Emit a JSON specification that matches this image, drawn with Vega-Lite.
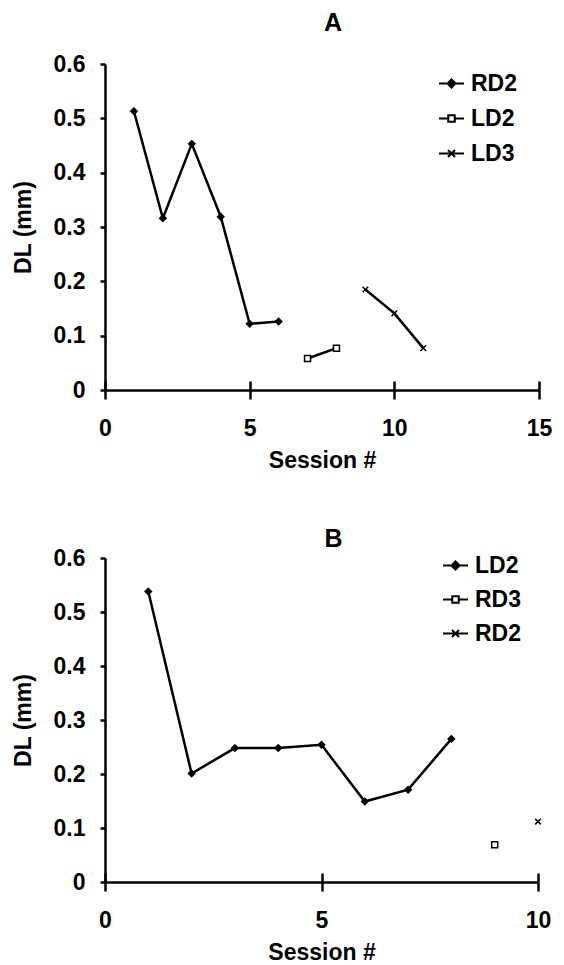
{
  "$schema": "https://vega.github.io/schema/vega-lite/v6.json",
  "background": "white",
  "padding": {"left": 12, "top": 11, "right": 5, "bottom": 5},
  "bounds": "flush",
  "spacing": 168,
  "resolve": {
    "scale": {"shape": "independent", "fill": "independent", "size": "independent", "x": "independent", "y": "independent"},
    "legend": {"shape": "independent", "fill": "independent", "size": "independent"}
  },
  "config": {
    "view": {"stroke": null},
    "font": "Liberation Sans",
    "axis": {
      "grid": false,
      "domainColor": "black",
      "domainWidth": 2.5,
      "tickColor": "black",
      "tickWidth": 2.5,
      "labelFont": "Liberation Sans",
      "labelFontWeight": "bold",
      "labelFontSize": 23,
      "labelColor": "black",
      "labelFlush": false,
      "titleFont": "Liberation Sans",
      "titleFontWeight": "bold",
      "titleFontSize": 23,
      "titleColor": "black"
    },
    "legend": {
      "labelFont": "Liberation Sans",
      "labelFontSize": 23,
      "labelFontWeight": "bold",
      "labelColor": "black",
      "labelOffset": 6,
      "padding": 0,
      "symbolSize": 625,
      "symbolStrokeWidth": 2
    },
    "title": {"font": "Liberation Sans", "fontSize": 25, "fontWeight": "bold", "color": "black"}
  },
  "datasets": {
    "a": [
      {"series": "RD2", "session": 1, "dl": 0.513},
      {"series": "RD2", "session": 2, "dl": 0.316},
      {"series": "RD2", "session": 3, "dl": 0.453},
      {"series": "RD2", "session": 4, "dl": 0.319},
      {"series": "RD2", "session": 5, "dl": 0.122},
      {"series": "RD2", "session": 6, "dl": 0.126},
      {"series": "LD2", "session": 7, "dl": 0.058},
      {"series": "LD2", "session": 8, "dl": 0.077},
      {"series": "LD3", "session": 9, "dl": 0.185},
      {"series": "LD3", "session": 10, "dl": 0.141},
      {"series": "LD3", "session": 11, "dl": 0.077}
    ],
    "b": [
      {"series": "LD2", "session": 1, "dl": 0.538},
      {"series": "LD2", "session": 2, "dl": 0.201},
      {"series": "LD2", "session": 3, "dl": 0.248},
      {"series": "LD2", "session": 4, "dl": 0.248},
      {"series": "LD2", "session": 5, "dl": 0.254},
      {"series": "LD2", "session": 6, "dl": 0.149},
      {"series": "LD2", "session": 7, "dl": 0.171},
      {"series": "LD2", "session": 8, "dl": 0.265},
      {"series": "RD3", "session": 9, "dl": 0.069},
      {"series": "RD2", "session": 10, "dl": 0.112}
    ]
  },
  "vconcat": [
    {
      "width": 434,
      "height": 326,
      "title": {"text": "A", "dx": 11, "offset": 17},
      "data": {"name": "a"},
      "layer": [
        {
          "mark": {"type": "line", "color": "black", "strokeWidth": 2.5},
          "encoding": {
            "x": {"field": "session", "type": "quantitative", "scale": {"domain": [0, 15], "nice": false},
                  "axis": {"values": [0, 5, 10, 15], "tickSize": 9, "labelPadding": 18, "titlePadding": 9, "title": "Session #"}},
            "y": {"field": "dl", "type": "quantitative", "scale": {"domain": [0, 0.6], "nice": false},
                  "axis": {"values": [0, 0.1, 0.2, 0.3, 0.4, 0.5, 0.6], "format": "~g", "tickSize": 5, "labelPadding": 15, "titlePadding": 18, "title": "DL (mm)"}},
            "detail": {"field": "series", "type": "nominal"}
          }
        },
        {
          "mark": {"type": "point", "filled": true, "opacity": 1, "stroke": "black", "strokeWidth": 1.5},
          "encoding": {
            "x": {"field": "session", "type": "quantitative",
                  "axis": {"orient": "bottom", "offset": -9, "values": [0, 5, 10, 15], "tickSize": 9, "labels": false, "domain": false, "title": null}},
            "y": {"field": "dl", "type": "quantitative"},
            "shape": {"field": "series", "type": "nominal",
                      "scale": {"domain": ["RD2", "LD2", "LD3"], "range": ["diamond", "square", "M-1,-1L1,1M-1,1L1,-1"]}, "legend": null},
            "fill": {"field": "series", "type": "nominal",
                     "scale": {"domain": ["RD2", "LD2", "LD3"], "range": ["black", "white", "white"]}, "legend": null},
            "size": {"field": "series", "type": "nominal",
                     "scale": {"domain": ["RD2", "LD2", "LD3"], "range": [40, 32, 60]}, "legend": null}
          }
        },
        {
          "transform": [{"filter": "datum.session > 100"}],
          "mark": {"type": "point", "filled": false, "opacity": 1, "color": "black", "strokeWidth": 2},
          "encoding": {
            "x": {"field": "session", "type": "quantitative", "axis": null},
            "y": {"field": "dl", "type": "quantitative"},
            "shape": {"field": "series", "type": "nominal",
                      "scale": {"domain": ["RD2", "LD2", "LD3"], "range": [
                        "M-1,0L1,0M0,-0.32L0.32,0L0,0.32L-0.32,0ZM0,-0.16L0.16,0L0,0.16L-0.16,0Z",
                        "M-1,0L-0.26,0M0.26,0L1,0M-0.26,-0.26L0.26,-0.26L0.26,0.26L-0.26,0.26Z",
                        "M-1,0L1,0M-0.28,-0.28L0.28,0.28M-0.28,0.28L0.28,-0.28"]},
                      "legend": {"orient": "none", "legendX": 333, "legendY": 6, "title": null, "rowPadding": 9}}
          }
        }
      ],
      "resolve": {"axis": {"x": "independent"}, "scale": {"shape": "independent"}, "legend": {"shape": "independent"}}
    },
    {
      "width": 433,
      "height": 324,
      "title": {"text": "B", "dx": 12, "offset": -5},
      "data": {"name": "b"},
      "layer": [
        {
          "mark": {"type": "line", "color": "black", "strokeWidth": 2.5},
          "encoding": {
            "x": {"field": "session", "type": "quantitative", "scale": {"domain": [0, 10], "nice": false},
                  "axis": {"values": [0, 5, 10], "tickSize": 9, "labelPadding": 18, "titlePadding": 9, "title": "Session #"}},
            "y": {"field": "dl", "type": "quantitative", "scale": {"domain": [0, 0.6], "nice": false},
                  "axis": {"values": [0, 0.1, 0.2, 0.3, 0.4, 0.5, 0.6], "format": "~g", "tickSize": 5, "labelPadding": 15, "titlePadding": 18, "title": "DL (mm)"}},
            "detail": {"field": "series", "type": "nominal"}
          }
        },
        {
          "mark": {"type": "point", "filled": true, "opacity": 1, "stroke": "black", "strokeWidth": 1.5},
          "encoding": {
            "x": {"field": "session", "type": "quantitative",
                  "axis": {"orient": "bottom", "offset": -9, "values": [0, 5, 10], "tickSize": 9, "labels": false, "domain": false, "title": null}},
            "y": {"field": "dl", "type": "quantitative"},
            "shape": {"field": "series", "type": "nominal",
                      "scale": {"domain": ["LD2", "RD3", "RD2"], "range": ["diamond", "square", "M-1,-1L1,1M-1,1L1,-1"]}, "legend": null},
            "fill": {"field": "series", "type": "nominal",
                     "scale": {"domain": ["LD2", "RD3", "RD2"], "range": ["black", "white", "white"]}, "legend": null},
            "size": {"field": "series", "type": "nominal",
                     "scale": {"domain": ["LD2", "RD3", "RD2"], "range": [40, 32, 60]}, "legend": null}
          }
        },
        {
          "transform": [{"filter": "datum.session > 100"}],
          "mark": {"type": "point", "filled": false, "opacity": 1, "color": "black", "strokeWidth": 2},
          "encoding": {
            "x": {"field": "session", "type": "quantitative", "axis": null},
            "y": {"field": "dl", "type": "quantitative"},
            "shape": {"field": "series", "type": "nominal",
                      "scale": {"domain": ["LD2", "RD3", "RD2"], "range": [
                        "M-1,0L1,0M0,-0.32L0.32,0L0,0.32L-0.32,0ZM0,-0.16L0.16,0L0,0.16L-0.16,0Z",
                        "M-1,0L-0.26,0M0.26,0L1,0M-0.26,-0.26L0.26,-0.26L0.26,0.26L-0.26,0.26Z",
                        "M-1,0L1,0M-0.28,-0.28L0.28,0.28M-0.28,0.28L0.28,-0.28"]},
                      "legend": {"orient": "none", "legendX": 337, "legendY": -6, "title": null, "rowPadding": 8}}
          }
        }
      ],
      "resolve": {"axis": {"x": "independent"}, "scale": {"shape": "independent"}, "legend": {"shape": "independent"}}
    }
  ]
}
